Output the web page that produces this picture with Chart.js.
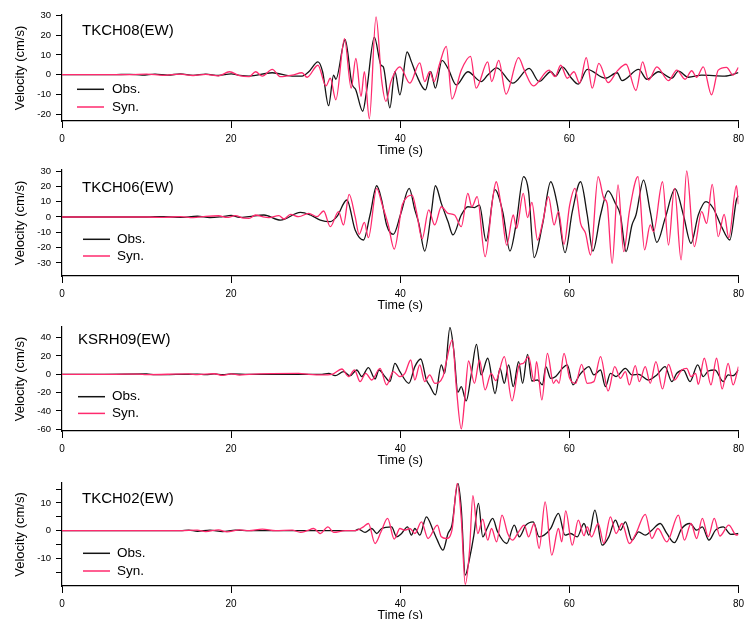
<!DOCTYPE html>
<html><head><meta charset="utf-8">
<script src="https://cdn.jsdelivr.net/npm/chart.js@4.4.1/dist/chart.umd.min.js"></script>
<style>
html,body{margin:0;padding:0;background:#fff;width:749px;height:619px;overflow:hidden;}
#wrap{position:relative;width:749px;height:619px;}
canvas{position:absolute;left:0;}
</style></head><body><div id="wrap"></div>
<script>
// ---------------- DATA ----------------
const stationNames = ['TKCH08(EW)', 'TKCH06(EW)', 'KSRH09(EW)', 'TKCH02(EW)'];
const seriesNames = ['Obs.', 'Syn.'];
const xTickValues = [0, 20, 40, 60, 80];

// TKCH08
const tkch08ObsT = [0,6,8,9.5,11,12.5,14,15.5,17,18.5,20,21,22.12,24.86,27.22,28.39,29.18,30.27,30.82,31.53,32.12,32.39,33.49,34.27,34.75,35.57,36.04,36.94,37.73,38.0,38.78,39.37,39.96,40.82,41.33,41.92,42.98,43.61,44.16,44.94,45.65,46.63,48.0,49.57,50.35,51.4,53.29,55.25,56.43,57.8,58.39,59.18,60.16,61.06,62.12,64.27,65.65,66.24,68.2,69.18,70.55,72.12,72.9,74.08,75.65,78.39,80];
const tkch08ObsV = [0,0,0.2,-0.2,0.3,-0.2,0.4,-0.3,0.3,-0.4,0.4,-0.3,-0.7,1,-0.7,-0.7,1.5,6.5,1.5,-15.7,-0.2,-2.3,17.7,-4.3,-7.7,-18.5,-7.7,19,4.8,4,-16.8,1.5,-10.2,11.5,6.5,-0.2,-7.7,1.5,-6.8,7.3,3.2,-5.2,1.5,-3.5,-0.2,3.5,-4.3,3.2,-3.5,1.5,-0.7,4,-1.3,-4.8,2.7,-1.8,1,-3,2.7,-2.3,1.5,-1.8,1.8,-1.3,-0.2,-0.7,1];
const tkch08SynT = [0,8,10,12,14,15.5,17,18.5,19.8,21,22.12,22.9,23.69,24.86,25.84,27.22,28.39,28.98,30.27,31.22,31.73,32.39,33.41,34.2,34.75,35.37,35.76,36.35,37.14,37.8,38.31,38.9,39.96,41.14,42.31,42.9,43.49,44.0,44.67,45.45,46.12,47.22,48.31,48.98,50.35,50.82,51.65,52.51,54.0,54.67,55.73,57.61,58.31,58.98,59.76,60.55,61.22,62.0,62.71,63.49,64.59,65.65,66.71,67.88,68.67,69.37,70.35,71.73,72.71,73.69,74.47,75.06,75.84,76.82,77.61,78.59,79.37,80];
const tkch08SynV = [0,0,0.3,-0.3,0.3,-0.4,0.2,-0.6,1.5,-0.5,-1,1.5,-0.7,2.7,-1,-0.2,1,-1.3,4.8,-5.7,-1.8,-12.7,18.2,-6.8,8.2,-11,1.5,-22.3,29.3,-2.7,-13.5,-3.5,4,-4.3,6,-3.5,1.5,-3.5,5.7,14.3,-12.3,2.3,9.3,-6.8,6.5,-3.5,7.3,-9.8,8.7,2.3,-5.7,2.3,-1,4.8,-1.8,1.5,-4.3,8.7,-6.8,5.7,-4,1.8,5.3,-8,6.5,-2.7,4,-3,2.3,-2.3,2,-1.3,4,-10.2,2.3,3.7,-0.2,3.7];

// TKCH06
const tkch06ObsT = [0,10,12,14,16,17.5,19,20,21,22.12,23.88,25.84,28.2,29.37,30.55,31.73,32.51,33.69,34.67,35.65,36.43,37.22,37.8,38.39,39.18,40.08,41.06,41.73,42.2,42.9,43.69,44.16,44.86,45.65,46.24,47.22,48.0,48.78,49.37,50.16,51.2,52.12,52.98,53.69,54.59,55.18,55.84,56.82,57.8,58.59,59.49,60.35,61.33,62.12,62.78,63.69,64.59,65.45,66.04,66.71,67.41,67.88,68.78,69.57,70.35,71.33,72.51,73.49,74.39,75.25,76.16,77.02,78.0,78.98,79.76,80];
const tkch06ObsV = [0,0,0.3,-0.3,0.5,-0.4,0.3,1,-0.3,0.2,1.3,-2,3,1.3,-2,-3,0.2,11.1,-8.5,-15,1.3,20.4,11.1,-5.2,-11.3,2.4,18.7,4.6,-4.1,-22.2,3.5,20.4,8.9,-3,-11.7,1.3,6.7,6.1,7.8,-15.7,17.8,3.5,-22.2,-5.2,26.3,16.5,-26.5,-5.2,23,7.8,-23.3,3.5,23,1.3,-22.2,1.3,17,8.9,1.3,-22.6,-5.2,1.3,24.1,3.5,-16.5,-0.9,18.3,1.3,-17.2,1.3,10,5.7,-6.3,-15,11.1,13.9];
const tkch06SynT = [0,10,12,14,15.5,17,18.5,19.5,20.5,21.5,22.12,22.9,23.69,24.47,25.65,26.24,27.02,28.0,29.18,30.16,30.94,31.73,32.71,33.29,33.96,34.67,35.14,35.76,36.24,37.22,37.88,38.59,39.29,40.24,40.86,41.41,41.92,42.59,43.37,44.08,44.86,45.65,46.43,47.22,48.0,48.47,49.1,50.04,50.94,51.35,51.92,52.59,53.37,53.76,54.55,55.06,55.57,56.24,56.9,57.53,58.2,58.71,59.37,60.04,60.67,61.33,61.92,62.51,63.41,64.08,64.47,65.06,65.76,66.43,67.1,68.12,68.9,69.57,69.96,71.02,71.73,72.43,73.22,73.88,74.78,75.65,76.24,76.9,77.61,78.31,78.86,79.76,80];
const tkch06SynV = [0,0,-0.3,0.3,-0.4,0.4,0.8,-0.3,0.9,-0.8,-0.9,1.3,0.2,-0.4,0.9,-1.3,1.7,0.2,2.4,0.2,3.9,-6.3,3.5,-5.2,14.8,0.2,-11.3,-3.5,-13.5,18.7,7.8,-5.2,-20.9,7.8,13.3,14.3,3.5,-14.3,4.6,-5.2,6.7,2.4,1.3,-6.3,15.4,6.7,13.3,-25.9,12.2,23,7.8,-18.3,1.3,-7.4,15.4,-0.4,9.6,-15,-2,13.3,-5.2,3.5,-17.8,7.8,18.7,-4.1,-10.7,-24.8,26.3,12.2,8.9,-30.2,20.9,-22.6,3.5,26.3,-21.5,-5.2,-9.6,23,-18.3,18.7,-28,30,-19.3,3.5,-4.1,21.3,-12.8,1.7,-13.5,20.4,8.3];

// KSRH09
const ksrh09ObsT = [0,5,10,11,16,17,18,19,20,22.12,30.75,31.53,32.31,33.29,34.08,34.86,35.45,36.24,37.02,37.49,38.2,38.78,39.37,39.96,41.02,41.73,42.43,43.1,43.49,44.16,44.86,45.25,45.88,46.35,46.82,47.22,47.8,48.39,49.02,49.57,50.35,51.22,51.8,52.31,52.82,53.37,54.0,54.47,55.06,55.57,56.24,56.82,57.22,57.8,58.39,59.18,59.76,60.43,61.22,61.73,62.31,62.9,63.69,64.27,64.86,65.53,66.63,67.41,68.2,69.37,70.35,71.33,72.12,72.71,73.49,74.27,75.18,75.84,76.43,77.22,78.2,78.78,79.37,80];
const ksrh09ObsV = [0,0,0.4,-0.4,0.3,-0.4,0.4,-0.5,0.5,0,0,1.1,-1.5,2.9,-1.5,4.7,-2.5,7.3,-5.1,4.7,-2.5,-8,12,2.9,-9.8,8.4,16.7,-6.2,-12.4,-22.5,10.2,1.1,51,24.7,-19.6,-13.5,-29,-0.7,32.7,-0.7,17.5,-21,6.5,-9.8,10.2,-13.5,13.8,-9.8,21.8,-7.3,-6.2,-11.6,8.4,-4.4,-2.5,6.5,10.2,-11.6,-0.7,4.7,8.4,-0.7,4.7,-13.5,1.1,-2.5,6.5,-0.7,0,-6.2,-0.7,8.4,-8,1.1,4.7,-8,10.2,-2.5,3.6,4.7,-8,-0.7,-1.5,4.7];
const ksrh09SynT = [0,6,9,10,15,16,18,19,20,21,22.12,28.0,29.2,30.75,31.92,33.1,33.88,34.59,35.25,35.92,36.63,37.61,38.39,39.18,39.96,40.55,41.25,41.73,42.31,42.9,43.49,44.08,45.06,45.45,46.16,46.63,47.22,47.61,48.08,48.78,49.37,50.04,50.75,51.3,52.31,53.22,54.08,54.55,55.18,55.84,56.12,56.75,57.41,58.12,58.45,58.78,59.37,60.04,60.75,61.45,62.12,62.9,63.69,64.59,65.37,66.04,66.63,67.1,67.8,68.27,68.98,69.57,70.24,71.02,71.73,72.43,73.29,73.88,74.39,74.94,75.25,75.96,76.75,77.41,78.08,78.78,79.37,80];
const ksrh09SynV = [0,0,0.3,-0.3,0.4,-0.4,0.6,-1.2,0.4,-0.8,0,1.1,0,-0.7,0,5.8,-2.5,4.7,-8,1.1,-6.2,6.5,-11.6,2.9,-2.5,1.1,15.6,-6.2,10.2,-8,-0.7,-9.8,-2.5,13.8,37.5,-13.5,-59.6,-29.8,14.5,-9.8,15.6,-17.1,1.1,-7,19.3,-29,10.2,12,19.3,-8,13.8,-28,22.9,-9.8,-6,-9.8,22.9,-4.4,-9.8,10.9,-9.8,-8,19.3,-18.2,8.4,-4.4,2.9,-11.6,9.5,-8,8.4,-9.8,13.8,-16,10.9,-6.2,4.7,6.5,-2.5,1.1,-10.9,17.5,-11.6,17.5,-16,12,-11.6,8.4];

// TKCH02
const tkch02ObsT = [0,14,15,16,17.5,19,20.5,22.12,34.67,35.06,35.84,36.63,37.22,37.8,38.98,39.57,40.16,40.86,41.33,41.73,42.31,43.1,43.88,44.39,45.06,45.65,46.12,46.82,47.22,47.69,48.2,48.71,49.25,49.76,50.27,50.94,51.5,52.59,53.49,54.08,54.86,55.73,56.43,57.02,57.8,58.71,59.49,60.16,60.94,61.73,62.31,63.02,63.88,64.67,65.45,66.04,66.63,67.41,68.2,68.98,69.76,70.75,71.53,72.43,73.29,74.27,75.06,75.73,76.51,77.29,78.2,79.1,80];
const tkch02ObsV = [0,0,0.2,-0.2,0.2,-0.3,0.2,0,0,0.6,-0.6,0.8,-1,0.8,1.4,-2.2,-1,1.4,-1.6,0.8,-1.6,5,0.2,-3.4,-7,-1,2,17,8,-16,-10,-1.6,9.8,-2.2,0.8,4.4,-0.3,-4.6,2,-2.2,2,3.2,-2.2,-1.6,0.8,6.2,-1.6,-1,-2.2,2.6,-1.6,7.4,-5.2,-2.2,3.8,0.2,3.2,-3.4,-0.4,-1.6,0.2,2.6,-1,-4.3,0.8,2.6,0.2,1.4,-3.4,0.2,1.4,-1.3,-1];
const tkch02SynT = [0,14,16,17,18.5,19.5,21,22.12,23.69,25.25,27.22,28.2,28.98,29.76,30.55,31.45,32.12,33.49,34.67,35.65,36.24,37.02,37.73,38.51,39.29,39.96,40.55,41.14,41.73,42.51,43.29,44.39,44.86,45.45,46.12,46.75,47.22,47.69,48.2,48.59,49.18,49.76,50.35,50.8,51.4,52.04,52.71,53.29,54.0,54.67,55.18,55.84,56.43,57.14,57.92,58.71,59.1,59.57,60.35,61.06,61.73,62.12,62.63,63.41,64.08,64.86,65.53,66.24,67.1,67.88,68.98,69.76,70.47,71.53,72.9,73.61,74.39,75.06,75.73,76.43,77.14,77.8,78.86,79.76,80];
const tkch02SynV = [0,0,0.2,-0.3,0.3,-0.4,0.3,0,0.6,0,0.2,-0.6,0,0.8,-1,1.4,-0.6,0,0,1.4,2.6,-4.6,-0.4,4.4,-3,0.8,0.2,0.8,-1,3.2,-2.8,2,-2.2,-2.8,0.2,17,4.4,-19.3,-7,12.6,-1,4.2,-3.4,0.8,-4,5.6,-1,-3.4,-0.4,2,-2.2,2.6,-6.4,10.4,-8.8,0.8,-4,7.1,-5.2,3.8,-1.8,1.4,-2.2,2.6,-4.6,5,-1,2.6,-4.6,-1,5.9,-2.8,0.8,-4,5.6,-3.4,2.6,-2.8,4.4,-2.2,4.4,-1.9,2,-1.6,-1.3];

// Y-axis ticks (values) and which of them carry labels
const yTicks08 = [-20,-10,0,10,20,30];
const yTicks06 = [-30,-20,-10,0,10,20,30];
const yTicks09 = [-60,-40,-20,0,20,40];
const yTicks02 = [-15,-10,-5,0,5,10,15];
const yLabels02 = [-10,0,10];

// ---------------- LAYOUT / STYLE ----------------
const OBS_COLOR = '#141414';
const SYN_COLOR = '#ff2a6e';
const FONT = "'Liberation Sans', Arial, sans-serif";
const XAXIS_H = 37, PAD_TOP = 12;

const panels = [
  {name: stationNames[0], obs:[tkch08ObsT,tkch08ObsV], syn:[tkch08SynT,tkch08SynV], ticks:yTicks08, labels:yTicks08,
   yMin:-23.45, yMax:30.24, top:15, bottom:121, tx:82, ty:31, lx1:77, lx2:104, ltx:112, ly:89.3, lg:17.7},
  {name: stationNames[1], obs:[tkch06ObsT,tkch06ObsV], syn:[tkch06SynT,tkch06SynV], ticks:yTicks06, labels:yTicks06,
   yMin:-38.49, yMax:30.66, top:170, bottom:276, tx:82, ty:188.3, lx1:83, lx2:110, ltx:117, ly:239.3, lg:16.7},
  {name: stationNames[2], obs:[ksrh09ObsT,ksrh09ObsV], syn:[ksrh09SynT,ksrh09SynV], ticks:yTicks09, labels:yTicks09,
   yMin:-61.9, yMax:51.64, top:327, bottom:431, tx:78, ty:340, lx1:78, lx2:105, ltx:112, ly:396.7, lg:16.7},
  {name: stationNames[3], obs:[tkch02ObsT,tkch02ObsV], syn:[tkch02SynT,tkch02SynV], ticks:yTicks02, labels:yLabels02,
   yMin:-19.89, yMax:17.16, top:483, bottom:586, tx:82, ty:499.3, lx1:83, lx2:110, ltx:117, ly:553.3, lg:17.7}
];

function toPoints(T, V) { return T.map((t, i) => ({x: t, y: V[i]})); }

const overlay = {
  id: 'overlay',
  afterDraw(chart, args, o) {
    const ctx = chart.ctx;
    ctx.save();
    ctx.fillStyle = '#000';
    ctx.textBaseline = 'middle';
    ctx.textAlign = 'left';
    ctx.font = '15px ' + FONT;
    ctx.fillText(o.name, o.tx, o.ty);
    ctx.font = '13.5px ' + FONT;
    chart.data.datasets.forEach((ds, i) => {
      const y = o.ly + i * o.lg;
      ctx.strokeStyle = ds.borderColor;
      ctx.lineWidth = 1.5;
      ctx.beginPath(); ctx.moveTo(o.lx1, y); ctx.lineTo(o.lx2, y); ctx.stroke();
      ctx.fillStyle = '#000';
      ctx.fillText(ds.label, o.ltx, y);
    });
    ctx.restore();
  }
};

const wrap = document.getElementById('wrap');
panels.forEach(p => {
  const cTop = p.top - PAD_TOP;
  const H = PAD_TOP + (p.bottom - p.top) + XAXIS_H;
  const cv = document.createElement('canvas');
  cv.width = 749; cv.height = H;
  cv.style.top = cTop + 'px';
  cv.style.width = '749px'; cv.style.height = H + 'px';
  wrap.appendChild(cv);
  new Chart(cv, {
    type: 'line',
    data: {datasets: [
      {label: seriesNames[0], data: toPoints(p.obs[0], p.obs[1]), borderColor: OBS_COLOR, borderWidth: 1.3,
       pointRadius: 0, cubicInterpolationMode: 'monotone', fill: false, order: 1},
      {label: seriesNames[1], data: toPoints(p.syn[0], p.syn[1]), borderColor: SYN_COLOR, borderWidth: 1.3,
       pointRadius: 0, cubicInterpolationMode: 'monotone', fill: false, order: 0}
    ]},
    options: {
      responsive: false, animation: false, devicePixelRatio: 1,
      layout: {padding: {top: PAD_TOP, left: 0, right: 7, bottom: 0}},
      plugins: {
        legend: {display: false}, tooltip: {enabled: false},
        overlay: {name: p.name, tx: p.tx, ty: p.ty - cTop, lx1: p.lx1, lx2: p.lx2, ltx: p.ltx, ly: p.ly - cTop, lg: p.lg}
      },
      scales: {
        x: {
          type: 'linear', min: 0, max: 80, position: 'bottom',
          afterBuildTicks: s => { s.ticks = xTickValues.map(v => ({value: v})); },
          ticks: {font: {family: FONT, size: 10}, color: '#000', padding: 5, maxRotation: 0, autoSkip: false},
          grid: {drawOnChartArea: false, drawTicks: true, tickLength: 7, color: '#000', lineWidth: 1},
          border: {display: true, color: '#000', width: 1.2},
          title: {display: true, text: 'Time (s)', font: {family: FONT, size: 12.5}, color: '#000', padding: {top: 0, bottom: 0}},
          afterFit: s => { s.height = XAXIS_H; }
        },
        y: {
          type: 'linear', min: p.yMin, max: p.yMax, position: 'left',
          afterBuildTicks: s => { s.ticks = p.ticks.map(v => ({value: v})); },
          ticks: {font: {family: FONT, size: 9.5}, color: '#000', padding: 5, autoSkip: false,
                  callback: v => p.labels.includes(v) ? String(v) : ''},
          grid: {drawOnChartArea: false, drawTicks: true, tickLength: 6, color: '#000', lineWidth: 1},
          border: {display: true, color: '#000', width: 1.2},
          title: {display: true, text: 'Velocity (cm/s)', font: {family: FONT, size: 13}, color: '#000', padding: {top: 12.5, bottom: 0}},
          afterFit: s => { s.width = 62; }
        }
      }
    },
    plugins: [overlay]
  });
});
</script>
</body></html>
